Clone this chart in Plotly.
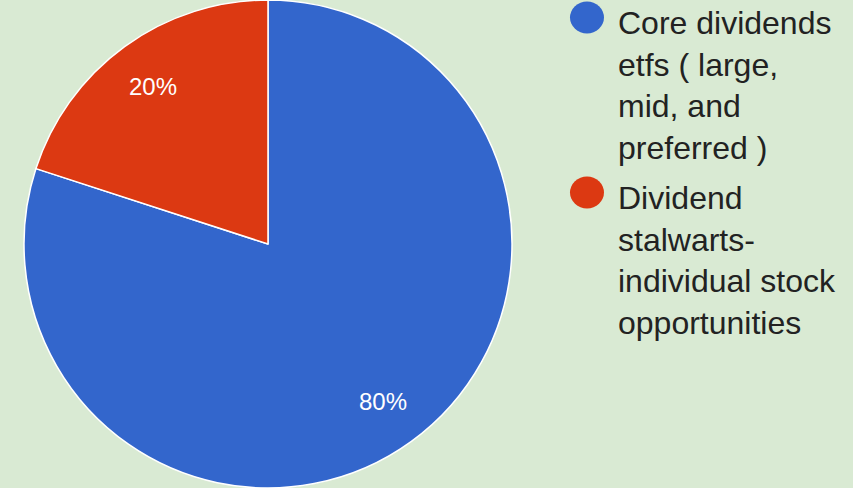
import math
import plotly.graph_objects as go

# Portfolio split
labels = ["Core dividends<br>etfs ( large,<br>mid, and<br>preferred )",
          "Dividend<br>stalwarts-<br>individual stock<br>opportunities"]
values = [80, 20]
colors = ["#3366cc", "#dc3912"]

W, H = 853, 488
BG = "#d9ead3"
FONT = "Liberation Sans, Arial, sans-serif"

# Pie geometry (pixels): centre and radius follow from the domain below
CX, CY = 268, 244
R = 244

fig = go.Figure()

fig.add_trace(go.Pie(
    labels=labels,
    values=values,
    sort=False,
    direction="clockwise",
    rotation=0,
    marker=dict(colors=colors, line=dict(color="#ffffff", width=1.5)),
    textinfo="none",
    hoverinfo="skip",
    showlegend=False,
    domain=dict(x=[(CX - R) / W, (CX + R) / W], y=[0, 1]),
))

# Percentage labels at 0.8 of the radius along each slice's mid-angle
total = sum(values)
cum = 0
for v in values:
    mid = (cum + v / 2) / total
    cum += v
    theta = 2 * math.pi * mid
    px = CX + 0.8 * R * math.sin(theta)
    py = CY - 0.8 * R * math.cos(theta)
    fig.add_annotation(
        x=px / W, y=1 - py / H, xref="paper", yref="paper",
        xanchor="center", yanchor="middle",
        text=f"{v / total:.0%}", showarrow=False,
        font=dict(family=FONT, size=24, color="#ffffff"),
    )

# Legend: round swatches with wrapped labels
item_tops = [17.5, 192.5]
for lab, col, yc in zip(labels, colors, item_tops):
    fig.add_shape(
        type="circle", xref="paper", yref="paper",
        xsizemode="pixel", ysizemode="pixel",
        xanchor=587 / W, yanchor=1 - yc / H,
        x0=-17, x1=17, y0=-16, y1=16,
        fillcolor=col, line=dict(width=0),
    )
    fig.add_annotation(
        x=616 / W, y=1 - (yc - 15) / H, xref="paper", yref="paper",
        xanchor="left", yanchor="top", align="left",
        text=lab, showarrow=False,
        font=dict(family=FONT, size=32, color="#222222"),
    )

fig.update_layout(
    width=W, height=H,
    margin=dict(l=0, r=0, t=0, b=0),
    paper_bgcolor=BG, plot_bgcolor=BG,
    showlegend=False,
)

fig.write_html("out.html")
